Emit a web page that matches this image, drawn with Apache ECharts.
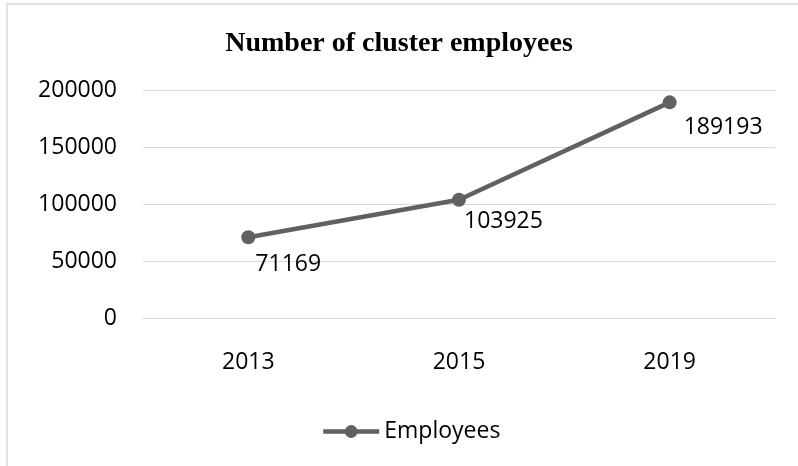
<!DOCTYPE html>
<html>
<head>
<meta charset="utf-8">
<script src="https://cdn.jsdelivr.net/npm/echarts@6/dist/echarts.min.js"></script>
<style>
  html, body { margin: 0; padding: 0; background: #fff; }
  #chart { width: 798px; height: 466px; }
</style>
</head>
<body>
<div id="chart"></div>
<script>
// Cluster headcount by year
const years = ['2013', '2015', '2019'];
const employees = [71169, 103925, 189193];
const yTicks = [0, 50000, 100000, 150000, 200000];

// Per-point label nudges (label sits just right of and below each marker)
const labelOffsets = [[-5, 27], [-7, 22], [2, 25]];

const FONT = '"Open Sans", "Noto Sans", sans-serif';
const LINE_COLOR = '#616161';

const chart = echarts.init(document.getElementById('chart'), null, { renderer: 'canvas' });

chart.setOption({
  backgroundColor: '#ffffff',
  animation: false,
  graphic: [{
    type: 'rect',
    shape: { x: 7, y: 4, width: 900, height: 600 },
    style: { fill: 'none', stroke: '#d9d9d9', lineWidth: 1.5 },
    silent: true,
    z: -10
  }],
  title: {
    text: 'Number of cluster employees',
    left: 'center',
    top: 25,
    textStyle: {
      fontFamily: '"Liberation Serif", "Times New Roman", serif',
      fontWeight: 'bold',
      fontSize: 28,
      color: '#000'
    }
  },
  legend: {
    data: ['Employees'],
    left: 316,
    top: 415,
    itemWidth: 56,
    itemHeight: 16,
    lineStyle: { width: 4.5, color: LINE_COLOR },
    textStyle: { fontFamily: FONT, fontSize: 23, color: '#000' }
  },
  grid: { left: 143, right: 23, top: 90, bottom: 147.5 },
  xAxis: {
    type: 'category',
    data: years,
    boundaryGap: true,
    axisLine: { show: true, lineStyle: { color: '#d9d9d9', width: 1 } },
    axisTick: { show: false },
    axisLabel: { margin: 32, fontFamily: FONT, fontSize: 23, color: '#000' }
  },
  yAxis: {
    type: 'value',
    min: yTicks[0],
    max: yTicks[yTicks.length - 1],
    interval: yTicks[1] - yTicks[0],
    axisLine: { show: false },
    axisTick: { show: false },
    splitLine: { lineStyle: { color: '#d9d9d9', width: 1 } },
    axisLabel: {
      margin: 26,
      fontFamily: FONT,
      fontSize: 23,
      color: '#000',
      formatter: v => String(v)
    }
  },
  series: [{
    name: 'Employees',
    type: 'line',
    data: employees.map((v, i) => ({
      value: v,
      label: { offset: labelOffsets[i] }
    })),
    symbol: 'circle',
    symbolSize: 14,
    lineStyle: { color: LINE_COLOR, width: 4.5 },
    itemStyle: { color: LINE_COLOR },
    label: {
      show: true,
      position: 'right',
      fontFamily: FONT,
      fontSize: 23,
      color: '#000'
    }
  }]
});
</script>
</body>
</html>
